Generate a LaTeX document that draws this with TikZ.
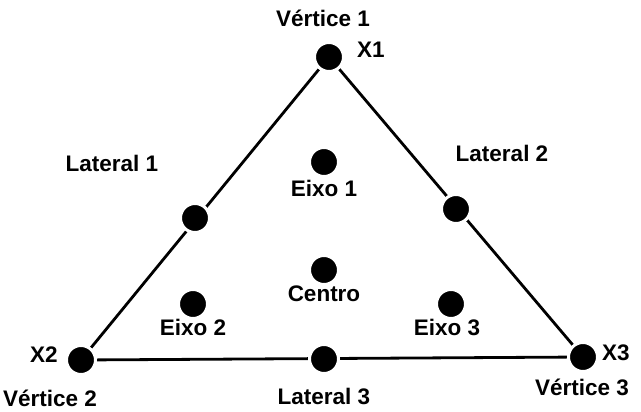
\documentclass[tikz,border=0pt]{standalone}
\usepackage{fontspec}
\setmainfont{Liberation Sans}
\begin{document}
\begin{tikzpicture}[x=1pt,y=-1pt,
  dot/.style={circle,fill=black,draw=white,line width=3pt,minimum size=29pt,inner sep=0pt},
  lbl/.style={font=\fontsize{22.5}{26}\selectfont\bfseries,inner sep=0pt,anchor=center},
  edge/.style={line width=2.8pt}]
\useasboundingbox (0,0) rectangle (641,412);
\coordinate (v1) at (329,57);
\coordinate (v2) at (81,360);
\coordinate (v3) at (583,357);
\draw[edge] (v1) -- (v2) -- (v3) -- cycle;
\node[dot] (X1) at (v1) {};
\node[dot] (X2) at (v2) {};
\node[dot] (X3) at (v3) {};
\node[dot] (L1) at (195,218) {};
\node[dot] (L2) at (456,209) {};
\node[dot] (L3) at (324,359) {};
\node[dot] (E1) at (324,162) {};
\node[dot] (C) at (324,270) {};
\node[dot] (E2) at (193,304) {};
\node[dot] (E3) at (451,304) {};
\node[lbl] (tv1) at (323,18) {Vértice 1};
\node[lbl] (tx1) at (371,50) {X1};
\node[lbl] (tl1) at (112,163) {Lateral 1};
\node[lbl] (tl2) at (502,153) {Lateral 2};
\node[lbl] (te1) at (324,188) {Eixo 1};
\node[lbl] (tc) at (324,294) {Centro};
\node[lbl] (te2) at (193,327) {Eixo 2};
\node[lbl] (te3) at (447,327) {Eixo 3};
\node[lbl] (tx2) at (44,355) {X2};
\node[lbl] (tv2) at (50,398) {Vértice 2};
\node[lbl] (tl3) at (324,396) {Lateral 3};
\node[lbl] (tx3) at (616,353) {X3};
\node[lbl] (tv3) at (582,387) {Vértice 3};
\end{tikzpicture}
\end{document}
